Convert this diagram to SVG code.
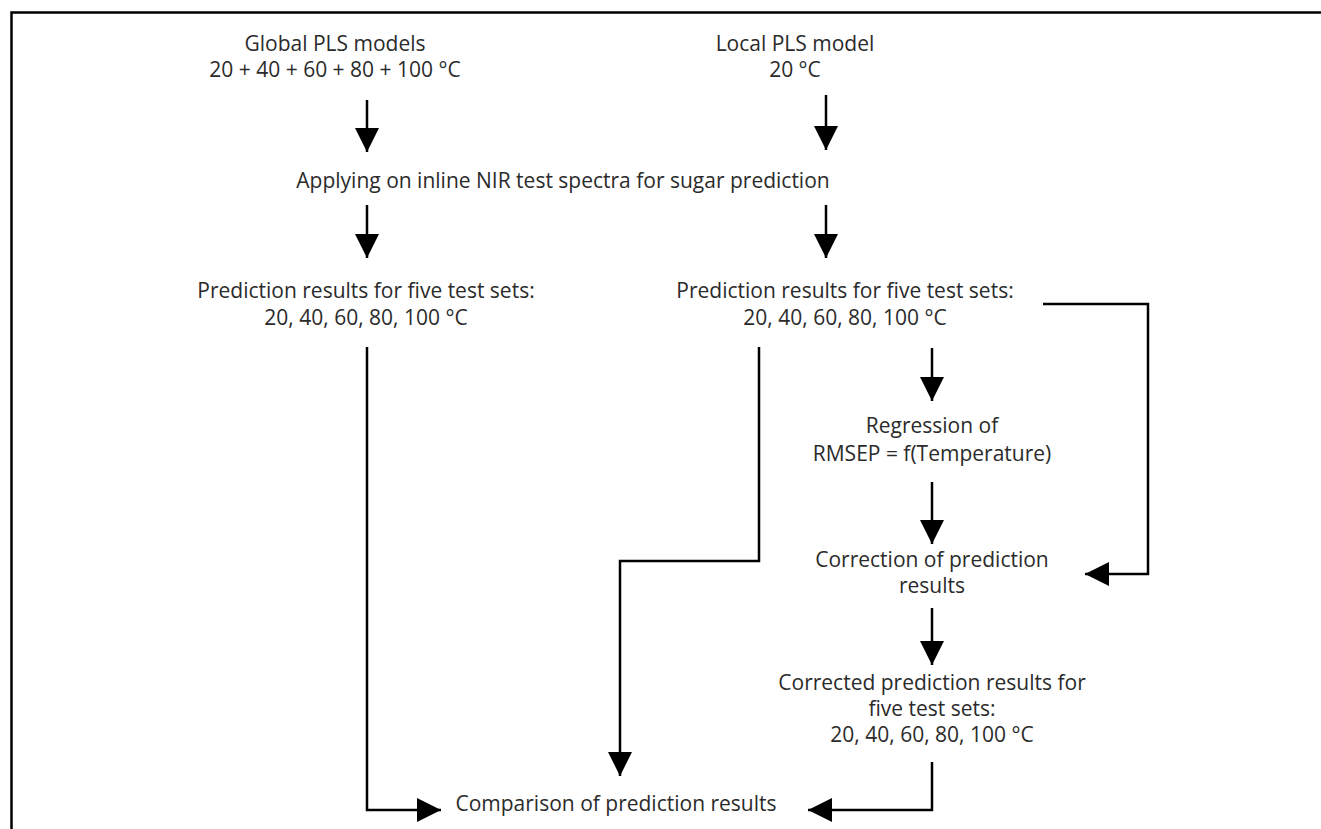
<svg xmlns="http://www.w3.org/2000/svg" width="1321" height="829" viewBox="0 0 1321 829">
<defs>
<style>
.t{font-family:"Open Sans","Noto Sans","Liberation Sans",sans-serif;font-size:21px;fill:#2b2b2b;text-anchor:middle}
.c{fill:none;stroke:#000;stroke-width:2.5}
</style>
<marker id="ah" markerUnits="userSpaceOnUse" markerWidth="24" markerHeight="24" refX="22" refY="11" orient="auto" viewBox="0 0 22 22">
<path d="M0,0 L22,11 L0,22 Z" fill="#000"/>
</marker>
</defs>
<rect width="1321" height="829" fill="#fff"/>
<path d="M11.5,829 V12.5 H1321" fill="none" stroke="#000" stroke-width="2.5"/>
<g id="global"><text class="t" x="335" y="51">Global PLS models</text><text class="t" x="335" y="77">20 + 40 + 60 + 80 + 100 °C</text></g>
<g id="local"><text class="t" x="795" y="51">Local PLS model</text><text class="t" x="795" y="77">20 °C</text></g>
<g id="applying"><text class="t" x="563" y="188">Applying on inline NIR test spectra for sugar prediction</text></g>
<g id="pred-global"><text class="t" x="366" y="298">Prediction results for five test sets:</text><text class="t" x="366" y="325">20, 40, 60, 80, 100 °C</text></g>
<g id="pred-local"><text class="t" x="845" y="298">Prediction results for five test sets:</text><text class="t" x="845" y="325">20, 40, 60, 80, 100 °C</text></g>
<g id="regression"><text class="t" x="932" y="433">Regression of</text><text class="t" x="932" y="461">RMSEP = f(Temperature)</text></g>
<g id="correction"><text class="t" x="932" y="567">Correction of prediction</text><text class="t" x="932" y="593">results</text></g>
<g id="corrected"><text class="t" x="932" y="690">Corrected prediction results for</text><text class="t" x="932" y="716">five test sets:</text><text class="t" x="932" y="742">20, 40, 60, 80, 100 °C</text></g>
<g id="comparison"><text class="t" x="616" y="811">Comparison of prediction results</text></g>
<g id="connectors" class="c">
<path class="c" d="M367,100 V152" marker-end="url(#ah)"/>
<path class="c" d="M826,95 V150" marker-end="url(#ah)"/>
<path class="c" d="M367,205 V258" marker-end="url(#ah)"/>
<path class="c" d="M826,205 V258" marker-end="url(#ah)"/>
<path class="c" d="M367,347 V810 H441" marker-end="url(#ah)"/>
<path class="c" d="M759,347 V561 H620 V776" marker-end="url(#ah)"/>
<path class="c" d="M1043,304 H1148 V574 H1085" marker-end="url(#ah)"/>
<path class="c" d="M932,348 V401" marker-end="url(#ah)"/>
<path class="c" d="M932,482 V544" marker-end="url(#ah)"/>
<path class="c" d="M932,608 V665" marker-end="url(#ah)"/>
<path class="c" d="M932,762 V810 H808" marker-end="url(#ah)"/>
</g>
</svg>
